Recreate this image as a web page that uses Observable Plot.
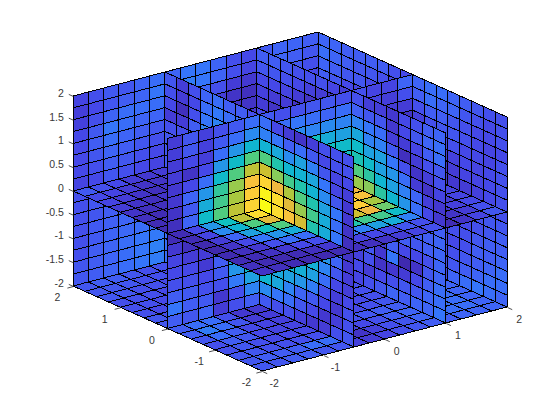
<!DOCTYPE html>
<html>
<head>
<meta charset="utf-8">
<style>html,body{margin:0;padding:0;background:#fff}svg{display:block}</style>
<script src="https://cdn.jsdelivr.net/npm/d3@7"></script>
<script src="https://cdn.jsdelivr.net/npm/@observablehq/plot@0.6"></script>
</head>
<body>
<div id="chart"></div>
<script>
const ticksXY = [-2, -1, 0, 1, 2];
const ticksZ = [-2, -1.5, -1, -0.5, 0, 0.5, 1, 1.5, 2];
const colorValues = [0, 5, 12, 20, 27, 32, 38, 42, 48, 52, 57, 62, 67, 72, 77, 82, 87, 92, 100];
const colorStops = ["#3e26a8", "#3f2ab0", "#4338d0", "#4548e8", "#4060f5", "#3575fa", "#2a8aef", "#1fa0e0", "#10b5d0", "#10bfc0", "#2cc4a0", "#50cc80", "#80cc60", "#a8c840", "#ccc030", "#f0b840", "#fdc83a", "#fbdc30", "#f9fb15"];

// y = 2 wall: rows z 2 -> -2, columns x -2 -> 2
const wallY2 = [
[18,22,25,24,28,30,28,32,32,28,22,20,25,28,28,26],
[15,20,24,26,28,32,30,34,32,28,22,18,26,28,26,24],
[16,22,28,30,30,30,28,32,28,22,14,12,28,26,24,22],
[20,25,32,30,28,28,25,26,20,15,10,8,28,24,22,20],
[20,26,30,28,26,24,22,20,16,12,10,10,26,22,20,18],
[20,24,28,26,24,22,20,16,12,10,10,12,24,20,18,18],
[20,22,26,24,22,20,16,12,10,10,12,14,22,20,18,18],
[18,20,24,22,20,18,14,10,10,12,14,18,22,20,20,20],
[22,24,24,22,20,18,20,20,20,20,20,20,20,20,20,20],
[22,24,25,24,22,20,20,20,20,20,20,20,20,20,20,20],
[22,24,26,26,24,22,20,20,20,20,20,20,20,20,20,20],
[22,25,27,28,26,26,20,20,20,20,20,20,20,20,20,20],
[22,25,28,29,30,30,20,20,20,20,20,20,20,20,20,20],
[22,26,28,30,32,33,20,20,20,20,20,20,20,20,20,20],
[24,26,28,30,32,35,20,20,20,20,20,20,20,20,20,20],
[24,26,28,30,32,34,20,20,20,20,20,20,20,20,20,20]];

// x = 2 wall: rows z 2 -> -2, columns y 2 -> -2
const wallX2 = [
[28,28,26,26,26,26,22,20,28,30,30,28,26,24,22,22],
[30,28,26,24,24,22,20,18,26,30,28,28,24,22,20,22],
[28,26,24,24,20,18,16,14,22,26,26,24,22,20,20,22],
[26,24,20,18,16,14,14,14,16,22,24,24,22,20,18,20],
[24,22,20,16,14,14,14,14,14,14,20,22,20,20,18,22],
[24,20,18,16,14,14,14,16,16,12,14,16,20,18,20,22],
[22,20,18,16,14,16,16,18,20,14,10,14,18,18,20,22],
[22,20,18,16,16,18,18,20,22,16,12,12,14,16,20,22],
[20,20,20,20,20,20,20,20,20,20,20,16,18,20,22,22],
[20,20,20,20,20,20,20,20,20,20,20,18,20,22,24,24],
[20,20,20,20,20,20,20,20,20,20,20,20,20,22,24,26],
[20,20,20,20,20,20,20,20,20,20,20,22,22,24,26,26],
[20,20,20,20,20,20,20,20,20,20,20,20,22,26,26,28],
[20,20,20,20,20,20,20,20,20,20,20,22,24,26,28,30],
[20,20,20,20,20,20,20,20,20,20,20,24,26,28,30,30],
[20,20,20,20,20,20,20,20,20,20,20,28,30,32,30,28]];

// z = -2 floor: rows y 2 -> -2, columns x -2 -> 2
const floorZ = [
[24,26,26,24,22,22,20,20,20,20,20,20,20,20,20,20],
[24,24,24,22,22,20,20,20,20,20,20,20,20,20,20,20],
[24,24,22,22,20,20,20,20,20,20,20,20,20,20,20,20],
[22,22,22,20,20,20,20,20,20,20,20,20,20,20,20,20],
[22,22,20,20,20,18,20,20,20,20,20,20,20,20,20,20],
[22,20,20,20,18,16,20,20,20,20,20,20,20,20,20,20],
[24,22,22,18,16,14,20,20,20,20,20,20,20,20,20,20],
[24,26,24,20,14,12,20,20,20,20,20,20,20,20,20,20],
[26,30,30,22,12,12,14,14,16,18,20,22,24,26,26,26],
[26,34,30,24,14,14,14,14,16,18,20,22,24,26,28,28],
[24,30,26,20,18,16,14,14,16,18,20,22,24,26,28,28],
[22,26,24,20,18,18,16,16,18,20,22,24,26,26,28,28],
[22,24,22,20,20,20,20,20,22,24,26,26,26,28,30,28],
[24,24,22,22,22,22,16,16,20,22,26,28,28,30,30,28],
[24,26,26,26,30,30,10,10,16,22,24,28,28,30,30,28],
[24,24,26,26,24,24,16,14,18,22,24,26,26,28,28,28]];

// z = 0 plane: rows y 2 -> -2, columns x -2 -> 2
const midZ = [
[25,22,20,14,12,14,40,40,40,40,40,40,40,40,40,40],
[20,18,14,10,10,14,40,40,40,40,40,40,40,40,40,40],
[18,14,10,8,10,30,40,40,40,40,40,40,40,40,40,40],
[14,10,8,10,35,40,40,40,40,40,40,40,40,40,40,40],
[10,8,8,14,30,40,40,40,40,40,40,40,40,40,40,40],
[8,6,10,20,30,40,40,40,40,40,40,40,40,40,40,40],
[6,8,12,24,35,48,50,50,50,50,50,50,40,40,40,40],
[5,8,16,30,50,70,70,70,70,70,70,70,40,40,40,40],
[6,20,40,52,75,92,95,100,100,98,90,82,20,20,20,20],
[6,18,38,48,62,80,92,98,98,95,90,85,20,20,20,20],
[5,14,28,42,52,62,85,90,92,90,88,72,20,20,20,20],
[4,10,20,32,40,45,62,70,76,77,82,65,14,14,16,18],
[5,8,12,22,30,30,48,52,55,60,60,50,10,12,14,18],
[6,6,9,12,20,22,30,32,35,42,45,35,8,12,16,20],
[8,6,5,6,8,12,18,18,20,20,24,22,6,10,14,22],
[10,8,6,5,5,6,8,8,10,14,18,22,6,10,18,24]];

// y = 0 plane: rows z 2 -> -2, columns x -2 -> 2
const midY = [
[14,24,16,22,25,30,25,22,22,24,24,22,22,18,18,28],
[15,24,16,25,30,38,30,30,32,30,28,30,30,18,15,22],
[14,20,15,30,40,48,40,40,38,36,38,36,34,16,14,14],
[14,10,20,40,50,62,60,55,52,52,45,42,30,16,14,10],
[12,20,30,50,62,75,78,70,66,60,52,50,30,20,14,10],
[12,28,40,58,70,85,90,80,75,66,58,52,30,20,14,14],
[10,25,45,60,72,88,98,90,80,70,60,52,30,20,14,14],
[8,28,50,62,75,90,100,95,85,72,60,55,30,20,14,14],
[6,40,50,55,70,88,90,90,80,70,60,50,30,30,30,30],
[12,8,30,48,62,80,80,70,60,50,40,30,30,30,30,30],
[18,14,14,36,52,70,60,50,40,30,30,30,30,30,30,30],
[20,20,13,26,44,60,50,40,30,30,30,30,30,30,30,30],
[22,22,20,25,40,50,40,30,30,30,30,30,30,30,30,30],
[26,25,22,22,33,42,30,30,30,30,30,30,30,30,30,30],
[32,26,25,12,22,36,30,30,30,30,30,30,30,30,30,30],
[26,24,28,14,22,26,30,30,30,30,30,30,30,30,30,30]];

// x = -0.5 plane: rows z 2 -> -2, columns y 2 -> -2
const midXa = [
[24,15,22,28,30,26,26,22,30,20,14,10,15,22,22,22],
[22,14,20,30,33,30,30,28,35,32,26,30,25,20,22,22],
[20,8,22,32,36,36,34,32,47,44,38,42,35,24,18,20],
[14,14,26,36,40,40,40,40,62,55,48,47,43,32,18,15],
[22,22,30,40,46,46,46,46,77,68,60,55,47,38,24,12],
[24,24,36,48,50,50,50,50,90,82,73,62,55,42,32,12],
[24,24,36,50,55,55,55,55,98,92,80,70,60,45,30,10],
[24,24,36,50,55,60,60,60,100,92,85,78,55,45,32,8],
[30,30,30,30,30,30,30,30,98,92,84,75,62,48,30,10],
[30,30,30,30,30,30,30,30,92,88,78,62,56,40,28,12],
[30,30,30,30,30,30,30,30,78,70,60,50,46,36,24,14],
[30,30,30,30,30,30,30,30,60,52,48,46,42,30,20,15],
[30,30,30,30,30,30,30,30,46,44,42,40,34,22,15,20],
[30,30,30,30,30,30,30,30,48,44,36,28,25,20,12,22],
[30,30,30,30,30,30,30,30,38,32,30,24,20,12,15,22],
[30,30,30,30,30,30,30,30,25,22,22,16,12,14,22,24]];

// x = 1 plane: rows z 2 -> -2, columns y 2 -> -2
const midXb = [
[26,26,24,22,22,22,18,14,22,15,15,12,20,22,26,28],
[24,24,22,20,16,14,10,8,27,24,24,12,20,24,28,30],
[20,20,18,14,10,10,8,12,36,32,30,15,14,18,26,30],
[16,14,14,10,8,10,12,20,44,35,35,25,8,14,22,24],
[14,10,8,8,10,14,20,30,50,42,42,32,22,10,15,22],
[20,20,20,20,20,20,30,40,54,50,42,40,30,14,10,18],
[20,20,20,20,20,20,30,40,62,57,48,42,35,28,15,12],
[20,20,20,20,20,20,30,40,70,68,57,48,40,30,20,12],
[20,20,20,20,20,20,30,40,60,50,45,40,30,28,26,26],
[20,20,20,20,20,20,30,40,50,42,40,34,28,26,26,28],
[20,20,20,20,20,20,30,30,42,36,30,30,26,24,26,28],
[20,20,20,20,20,20,20,30,30,28,14,26,20,20,22,28],
[20,20,20,20,20,20,20,20,24,24,12,32,5,10,24,28],
[20,20,20,20,20,20,20,20,16,22,10,12,14,20,26,30],
[20,20,20,20,20,20,20,20,20,14,20,22,24,24,28,30],
[20,20,20,20,20,20,20,20,18,22,24,28,26,28,28,32]];

const step = 0.25;
// orthographic view of the box, az -37.5 el 30, in screen units
const project = (x, y, z) => [61.25 * x - 47.25 * y, 16 * x + 21.25 * y + 47.5 * z];
const depth = (x, y, z) => -0.527 * x - 0.687 * y + 0.5 * z;

const planes = [
  {values: wallY2, at: (r, c) => [-2 + step * c, 2, 2 - step * r]},
  {values: wallX2, at: (r, c) => [2, 2 - step * c, 2 - step * r]},
  {values: floorZ, at: (r, c) => [-2 + step * c, 2 - step * r, -2]},
  {values: midZ, at: (r, c) => [-2 + step * c, 2 - step * r, 0]},
  {values: midY, at: (r, c) => [-2 + step * c, 0, 2 - step * r]},
  {values: midXa, at: (r, c) => [-0.5, 2 - step * c, 2 - step * r]},
  {values: midXb, at: (r, c) => [1, 2 - step * c, 2 - step * r]}
];

const cells = [];
planes.forEach((p) => p.values.forEach((row, r) => row.forEach((v, c) => {
  const a = p.at(r, c), b = p.at(r, c + 1), d = p.at(r + 1, c + 1), e = p.at(r + 1, c);
  const mid = [0, 1, 2].map((i) => (a[i] + d[i]) / 2);
  cells.push({v, a, b, d, e, order: depth(...mid)});
})));
cells.sort((m, n) => m.order - n.order);

const quads = [];
cells.forEach((q, id) => {
  const pa = project(...q.a), pb = project(...q.b), pd = project(...q.d), pe = project(...q.e);
  quads.push({id, v: q.v, x1: pa[0], y1: pa[1], x2: pe[0], y2: pe[1]});
  quads.push({id, v: q.v, x1: pb[0], y1: pb[1], x2: pd[0], y2: pd[1]});
});

const tick = (from, to, label) => {
  const s = project(...from), t = project(...to);
  return {x1: s[0], y1: s[1], x2: t[0], y2: t[1], label};
};
const zTicks = ticksZ.map((z) => tick([-2, 2, z], [-2, 2.1, z], String(z)));
const yTicks = ticksXY.map((y) => tick([-2, y, -2], [-2.1, y, -2], String(y)));
const xTicks = ticksXY.map((x) => tick([x, -2, -2], [x, -2.1, -2], String(x)));
const allTicks = [...zTicks, ...yTicks, ...xTicks];

const font = {fontFamily: "Liberation Sans", fontSize: 10.5, fill: "#383838", stroke: "none"};

const chart = Plot.plot({
  width: 560,
  height: 420,
  margin: 0,
  x: {domain: [-290, 270], range: [0, 560], axis: null},
  y: {domain: [-218.5, 201.5], range: [420, 0], axis: null},
  color: {type: "linear", domain: colorValues, range: colorStops, clamp: true},
  style: {background: "#fff"},
  marks: [
    Plot.area(quads, {x1: "x1", y1: "y1", x2: "x2", y2: "y2", z: "id", fill: "v", stroke: "#000", strokeWidth: 1, curve: "linear", shapeRendering: "crispEdges"}),
    Plot.link(allTicks, {x1: "x1", y1: "y1", x2: "x2", y2: "y2", stroke: "#262626", strokeWidth: 0.8}),
    Plot.text(zTicks, {x: "x2", y: "y2", text: "label", textAnchor: "end", dx: -5, dy: -1, ...font}),
    Plot.text(yTicks, {x: "x2", y: "y2", text: "label", textAnchor: "middle", dx: -10, dy: 10, ...font}),
    Plot.text(xTicks, {x: "x2", y: "y2", text: "label", textAnchor: "middle", dx: 7, dy: 10, ...font})
  ]
});
document.getElementById("chart").appendChild(chart);
</script>
</body>
</html>
